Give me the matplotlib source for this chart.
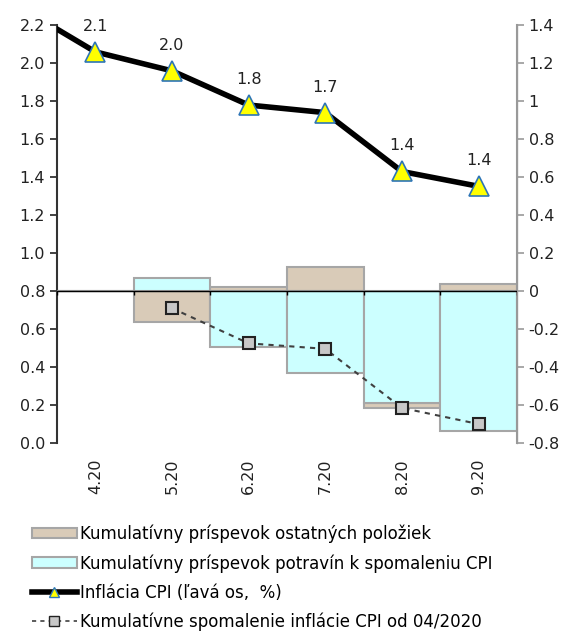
import numpy as np
import matplotlib
matplotlib.use('Agg')
import matplotlib.pyplot as plt
from matplotlib.ticker import FuncFormatter
from matplotlib.lines import Line2D

plt.rcParams['font.family'] = ['DejaVu Sans']
plt.rcParams['axes.unicode_minus'] = False

# data
months = ['4.20', '5.20', '6.20', '7.20', '8.20', '9.20']
cpi_prev = 2.30          # 3.20 value, only the line segment entering the chart is visible
cpi = [2.06, 1.96, 1.78, 1.74, 1.43, 1.352]
food = [0.0, 0.07, -0.295, -0.43, -0.59, -0.737]
other = [0.0, -0.16, 0.02, 0.126, -0.025, 0.037]
cumulative = [np.nan, -0.09, -0.275, -0.304, -0.615, -0.70]

lbl_other = 'Kumulatívny príspevok ostatných položiek'
lbl_food = 'Kumulatívny príspevok potravín k spomaleniu CPI'
lbl_cpi = 'Inflácia CPI (ľavá os,  %)'
lbl_cum = 'Kumulatívne spomalenie inflácie CPI od 04/2020'

x = np.arange(len(months))
food = np.array(food)
other = np.array(other)
other_bottom = np.where(np.sign(other) == np.sign(food), food, 0.0)

fig = plt.figure(figsize=(5.73, 6.32), dpi=100)
ax = fig.add_axes([0.0995, 0.299, 0.8025, 0.661])
ax2 = ax.twinx()

# bars on right axis
edge = '#a6a6a6'
b_other = ax2.bar(x, other, width=1.0, bottom=other_bottom, color='#d9cbb8',
                  edgecolor=edge, linewidth=1.5, zorder=2)
b_food = ax2.bar(x, food, width=1.0, color='#ccffff', edgecolor=edge,
                 linewidth=1.5, zorder=2)
ax2.axhline(0, color='black', linewidth=1.0, zorder=3)
ax2.vlines(np.arange(-0.5, len(months)), 0, -0.02, color='black', linewidth=1.0, zorder=3)

ax2.plot(x, cumulative, linestyle=(0, (2.5, 2.5)), color='#404040', linewidth=1.5,
         marker='s', markersize=9, markerfacecolor='#c8c8c8',
         markeredgecolor='#222222', markeredgewidth=1.5, zorder=4)

# CPI line (left axis values, drawn on ax2 with the 0.8 offset so it stays on top)
xl = np.concatenate([[-1], x])
yl = np.concatenate([[cpi_prev], cpi])
ax2.plot(xl, yl - 0.8, color='black', linewidth=4, zorder=5)
ax2.plot(x, np.array(cpi) - 0.8, linestyle='none', marker='^', markersize=14,
         markerfacecolor='#ffff00', markeredgecolor='#2e75b6',
         markeredgewidth=1.2, zorder=6)
for xi, v in zip(x, cpi):
    ax2.annotate(f'{v:.1f}', (xi, v - 0.8), xytext=(0, 13), textcoords='offset points',
                 ha='center', va='bottom', fontsize=11.5, color='#222222', zorder=7)

ax.set_xlim(-0.5, len(months) - 0.5)
ax.set_ylim(0, 2.2)
ax2.set_ylim(-0.8, 1.4)
ax.set_yticks(np.arange(0, 2.21, 0.2))
ax.yaxis.set_major_formatter(FuncFormatter(lambda v, p: f'{v:.1f}'))
ax2.set_yticks(np.arange(-0.8, 1.41, 0.2))
ax2.yaxis.set_major_formatter(FuncFormatter(lambda v, p: f'{round(v, 1) + 0.0:g}'))

ax.set_xticks(x)
ax.set_xticklabels(months, rotation=90, fontsize=11.5, color='#222222')
ax.tick_params(axis='x', length=0, pad=11)
ax.tick_params(axis='y', labelsize=11.5, colors='#222222', length=5, width=1.2)
ax2.tick_params(axis='y', labelsize=11.5, labelcolor='#222222', color='#999999', length=5, width=1.2)

for a in (ax, ax2):
    a.spines['top'].set_visible(False)
    a.spines['bottom'].set_visible(False)
ax2.spines['left'].set_visible(False)
ax.spines['left'].set_color('#333333')
ax.spines['left'].set_linewidth(1.5)
ax2.spines['right'].set_color('#999999')
ax2.spines['right'].set_linewidth(1.5)

# legend
h_cpi = Line2D([], [], color='black', linewidth=4, marker='^', markersize=7,
               markerfacecolor='#ffff00', markeredgecolor='#2e75b6')
h_cum = Line2D([], [], color='#404040', linewidth=1.2, linestyle=(0, (2.5, 2.5)),
               marker='s', markersize=7, markerfacecolor='#c8c8c8', markeredgecolor='#222222')
fig.legend([b_other, b_food, h_cpi, h_cum],
           [lbl_other, lbl_food, lbl_cpi, lbl_cum],
           loc='upper left', bbox_to_anchor=(0.055, 0.17), frameon=False,
           fontsize=12, handlelength=2.7, handleheight=0.6, handletextpad=0.2,
           labelspacing=0.66, borderaxespad=0, borderpad=0)

fig.savefig('out.png', dpi=100)
